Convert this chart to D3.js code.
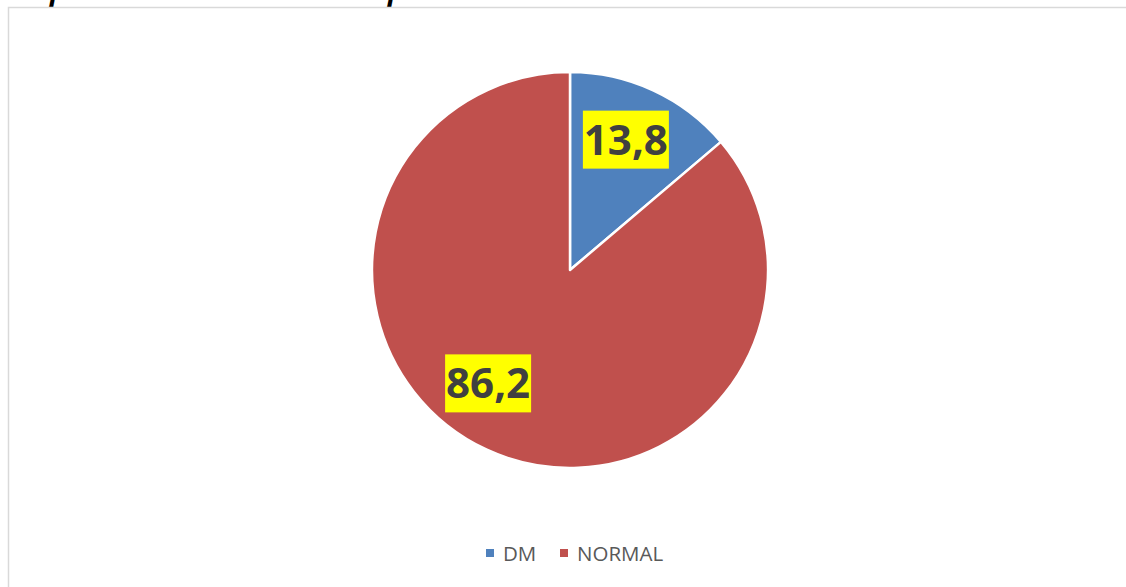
<!DOCTYPE html>
<html><head><meta charset="utf-8">
<script src="https://cdn.jsdelivr.net/npm/d3@7"></script>
<style>body{margin:0;background:#fff;overflow:hidden}svg{display:block}</style>
</head><body><svg id="c" width="1126" height="587"></svg>
<script>
const categories = ["DM", "NORMAL"];
const values = [13.8, 86.2];
const valueLabels = ["13,8", "86,2"];
const colors = ["#4F81BD", "#C0504D"];

const svg = d3.select("#c");
// clipped title fragments above chart
svg.append("text").attr("x", 50).attr("y", 0).attr("font-family", "Open Sans").attr("font-style", "italic").attr("font-weight", "bold").attr("font-size", 28).attr("fill", "#000").text("p");
svg.append("text").attr("x", 388).attr("y", 0).attr("font-family", "Open Sans").attr("font-style", "italic").attr("font-weight", "bold").attr("font-size", 28).attr("fill", "#000").text("p");

svg.append("rect").attr("x", 8.5).attr("y", 7.5).attr("width", 1200).attr("height", 700)
  .attr("fill", "#fff").attr("stroke", "#d9d9d9").attr("stroke-width", 1.5);

const cx = 570, cy = 270, r = 198;
const pie = d3.pie().sort(null).value(d => d)(values);
const arc = d3.arc().innerRadius(0).outerRadius(r);
const g = svg.append("g").attr("transform", `translate(${cx},${cy})`);
g.selectAll("path").data(pie).join("path")
  .attr("d", arc).attr("fill", (d, i) => colors[i])
  .attr("stroke", "#fff").attr("stroke-width", 2.5).attr("stroke-linejoin", "round");

const labelArc = d3.arc().innerRadius(r * 0.72).outerRadius(r * 0.72);
const nudge = [[-4, -1], [-22, -16]];
pie.forEach((d, i) => {
  const [x, y] = labelArc.centroid(d);
  const lx = x + nudge[i][0], ly = y + nudge[i][1];
  g.append("rect").attr("x", lx - 43).attr("y", ly - 29).attr("width", 86).attr("height", 58).attr("fill", "#ffff00");
  g.append("text").attr("x", lx).attr("y", ly).attr("dy", "0.36em")
    .attr("text-anchor", "middle").attr("font-family", "Open Sans").attr("font-weight", "bold")
    .attr("font-size", 42).attr("fill", "#404040").text(valueLabels[i]);
});

// legend
const legend = svg.append("g");
const lx = [486, 560];
categories.forEach((c, i) => {
  legend.append("rect").attr("x", lx[i]).attr("y", 549).attr("width", 8).attr("height", 8).attr("fill", colors[i]);
  legend.append("text").attr("x", lx[i] + 17).attr("y", 561).attr("font-family", "Open Sans").attr("font-size", 20.5)
    .attr("fill", "#595959").text(c);
});
</script></body></html>
